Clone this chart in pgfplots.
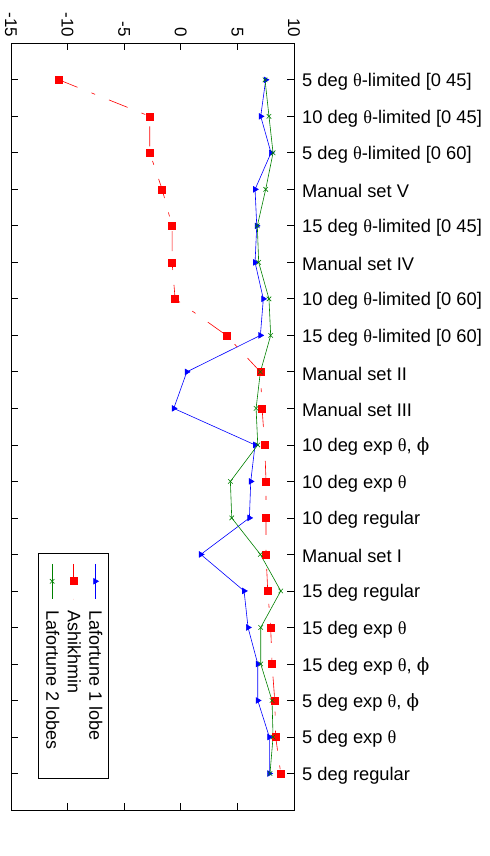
\documentclass[border=0pt]{standalone}
\usepackage{pgfplots}
\pgfplotsset{compat=1.18}
\usepackage{fontspec}
\setmainfont{Liberation Sans}
\newfontfamily\grk{Liberation Serif}
\newfontfamily\grp{DejaVu Serif}
\newcommand{\thet}{{\grk θ}}
\newcommand{\ph}{{\grp ϕ}}
\definecolor{mgreen}{RGB}{0,128,0}
\begin{document}
\begin{tikzpicture}[rotate=-90, transform shape, font=\fontsize{17bp}{20bp}\selectfont]
\useasboundingbox (-43.3bp,-11bp) rectangle (812.7bp,479bp);
\begin{axis}[
 at={(0,0)}, anchor=south west, scale only axis,
 width=766.7bp, height=283bp,
 xmin=-1, xmax=20, ymin=-15, ymax=10,
 ytick={-15,-10,-5,0,5,10}, yticklabels={-15,-10,-5,0,5,10},
 yticklabel style={inner sep=0pt, anchor=east},
 yticklabel shift=6bp,
 xtick={0,...,19},
 xticklabel pos=right,
 xticklabel style={xshift=2bp, inner sep=0pt, rotate=90, anchor=west, font=\fontsize{18.3bp}{21bp}\selectfont},
 xticklabel shift=8bp,
 xticklabels={
  5 deg \thet-limited [0 45],
  10 deg \thet-limited [0 45],
  5 deg \thet-limited [0 60],
  Manual set V,
  15 deg \thet-limited [0 45],
  Manual set IV,
  10 deg \thet-limited [0 60],
  15 deg \thet-limited [0 60],
  Manual set II,
  Manual set III,
  {10 deg exp \thet, \ph},
  10 deg exp \thet,
  10 deg regular,
  Manual set I,
  15 deg regular,
  15 deg exp \thet,
  {15 deg exp \thet, \ph},
  {5 deg exp \thet, \ph},
  5 deg exp \thet,
  5 deg regular},
 tick align=inside, major tick length=7bp,
 tick style={black, line width=0.8bp},
 axis line style={line width=1bp},
 legend cell align=left,
 legend image code/.code={\draw[mark repeat=2,mark phase=2,#1] plot coordinates {(0bp,0bp) (17.5bp,0bp) (35bp,0bp)};},
 legend style={at={(axis cs:12.96,-6.34)}, anchor=north west, draw=black, line width=1bp,
   font=\fontsize{18bp}{21bp}\selectfont, row sep=4bp, column sep=10bp,
   nodes={inner sep=1.5bp}, inner xsep=10bp, inner ysep=4.5bp},
]
\addplot[blue, line width=0.6bp, mark=triangle*, mark size=3.2bp, mark options={solid}] coordinates {
(0,7.50) (1,7.06) (2,7.97) (3,6.56) (4,6.71) (5,6.56) (6,7.29) (7,7.03) (8,0.53) (9,-0.62)
(10,6.56) (11,6.18) (12,6.06) (13,1.77) (14,5.59) (15,5.94) (16,6.80) (17,6.80) (18,7.82) (19,7.82)};
\addlegendentry{Lafortune 1 lobe}
\addplot[red, line width=0.6bp, dash pattern=on 20bp off 15bp on 4bp off 15bp, mark=square*, mark size=3.5bp, mark options={solid}] coordinates {
(0,-10.77) (1,-2.74) (2,-2.74) (3,-1.65) (4,-0.77) (5,-0.77) (6,-0.50) (7,4.03) (8,7.03) (9,7.18)
(10,7.41) (11,7.53) (12,7.53) (13,7.53) (14,7.68) (15,7.94) (16,8.06) (17,8.30) (18,8.38) (19,8.83)};
\addlegendentry{Ashikhmin}
\addplot[mgreen, line width=0.6bp, mark=x, mark size=3.2bp, mark options={solid}] coordinates {
(0,7.44) (1,7.79) (2,8.15) (3,7.50) (4,6.76) (5,6.88) (6,7.79) (7,7.94) (8,7.03) (9,6.65)
(10,6.80) (11,4.38) (12,4.50) (13,7.03) (14,8.83) (15,7.06) (16,7.06) (17,8.06) (18,8.15) (19,7.88)};
\addlegendentry{\makebox[156bp][l]{Lafortune 2 lobes}}
\end{axis}
\end{tikzpicture}
\end{document}
